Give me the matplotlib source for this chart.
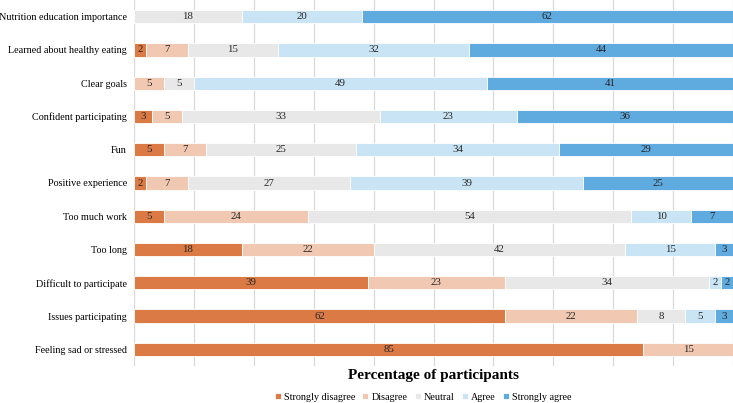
import numpy as np
import matplotlib.pyplot as plt

plt.rcParams['font.family'] = ['Liberation Serif', 'DejaVu Serif']

# rows top to bottom
questions = [
    "Nutrition education importance",
    "Learned about healthy eating",
    "Clear goals",
    "Confident participating",
    "Fun",
    "Positive experience",
    "Too much work",
    "Too long",
    "Difficult to participate",
    "Issues participating",
    "Feeling sad or stressed",
]
categories = ["Strongly disagree", "Disagree", "Neutral", "Agree", "Strongly agree"]

strongly_disagree = [0, 2, 0, 3, 5, 2, 5, 18, 39, 62, 85]
disagree = [0, 7, 5, 5, 7, 7, 24, 22, 23, 22, 15]
neutral = [18, 15, 5, 33, 25, 27, 54, 42, 34, 8, 0]
agree = [20, 32, 49, 23, 34, 39, 10, 15, 2, 5, 0]
strongly_agree = [62, 44, 41, 36, 29, 25, 7, 3, 2, 3, 0]

colors = ["#DB7A44", "#F1C8B1", "#E8E8E8", "#C9E4F4", "#5FAADF"]

series = [strongly_disagree, disagree, neutral, agree, strongly_agree]

fig = plt.figure(figsize=(7.33, 4.03), dpi=100)
ax = fig.add_axes([134 / 733, 1 - 366 / 403, 1 - 134 / 733, 366 / 403])

y = np.arange(len(questions))
left = np.zeros(len(questions))
for name, vals, col in zip(categories, series, colors):
    vals = np.array(vals, dtype=float)
    bars = ax.barh(y, vals, left=left, height=0.4, color=col, edgecolor="white",
                   linewidth=0.6, label=name, zorder=2)
    for b, v in zip(bars, vals):
        if v > 0:
            ax.text(b.get_x() + b.get_width() / 2, b.get_y() + b.get_height() / 2,
                    f"{int(v)}", ha="center", va="center", fontsize=7.8,
                    color="#262626", zorder=3)
    left += vals

ax.set_xlim(0, 100)
ax.set_ylim(len(questions) - 0.5, -0.5)
ax.set_xticks(np.arange(0, 101, 10))
ax.tick_params(axis="x", length=0, labelbottom=False)
ax.tick_params(axis="y", length=0, labelsize=7.3, pad=5)
ax.set_yticks(y)
ax.set_yticklabels(questions)
ax.grid(axis="x", color="#D9D9D9", linewidth=0.9, zorder=0)
for s in ax.spines.values():
    s.set_visible(False)

fig.text(433 / 733, 1 - 375 / 403, "Percentage of participants", ha="center",
         va="center", fontsize=11, fontweight="bold")
fig.legend(loc="center", bbox_to_anchor=(423 / 733, 1 - 397 / 403), ncol=5,
           frameon=False, fontsize=7.3, handlelength=0.6, handleheight=0.6,
           handletextpad=0.3, columnspacing=0.7)

fig.savefig("out.png", dpi=100)
